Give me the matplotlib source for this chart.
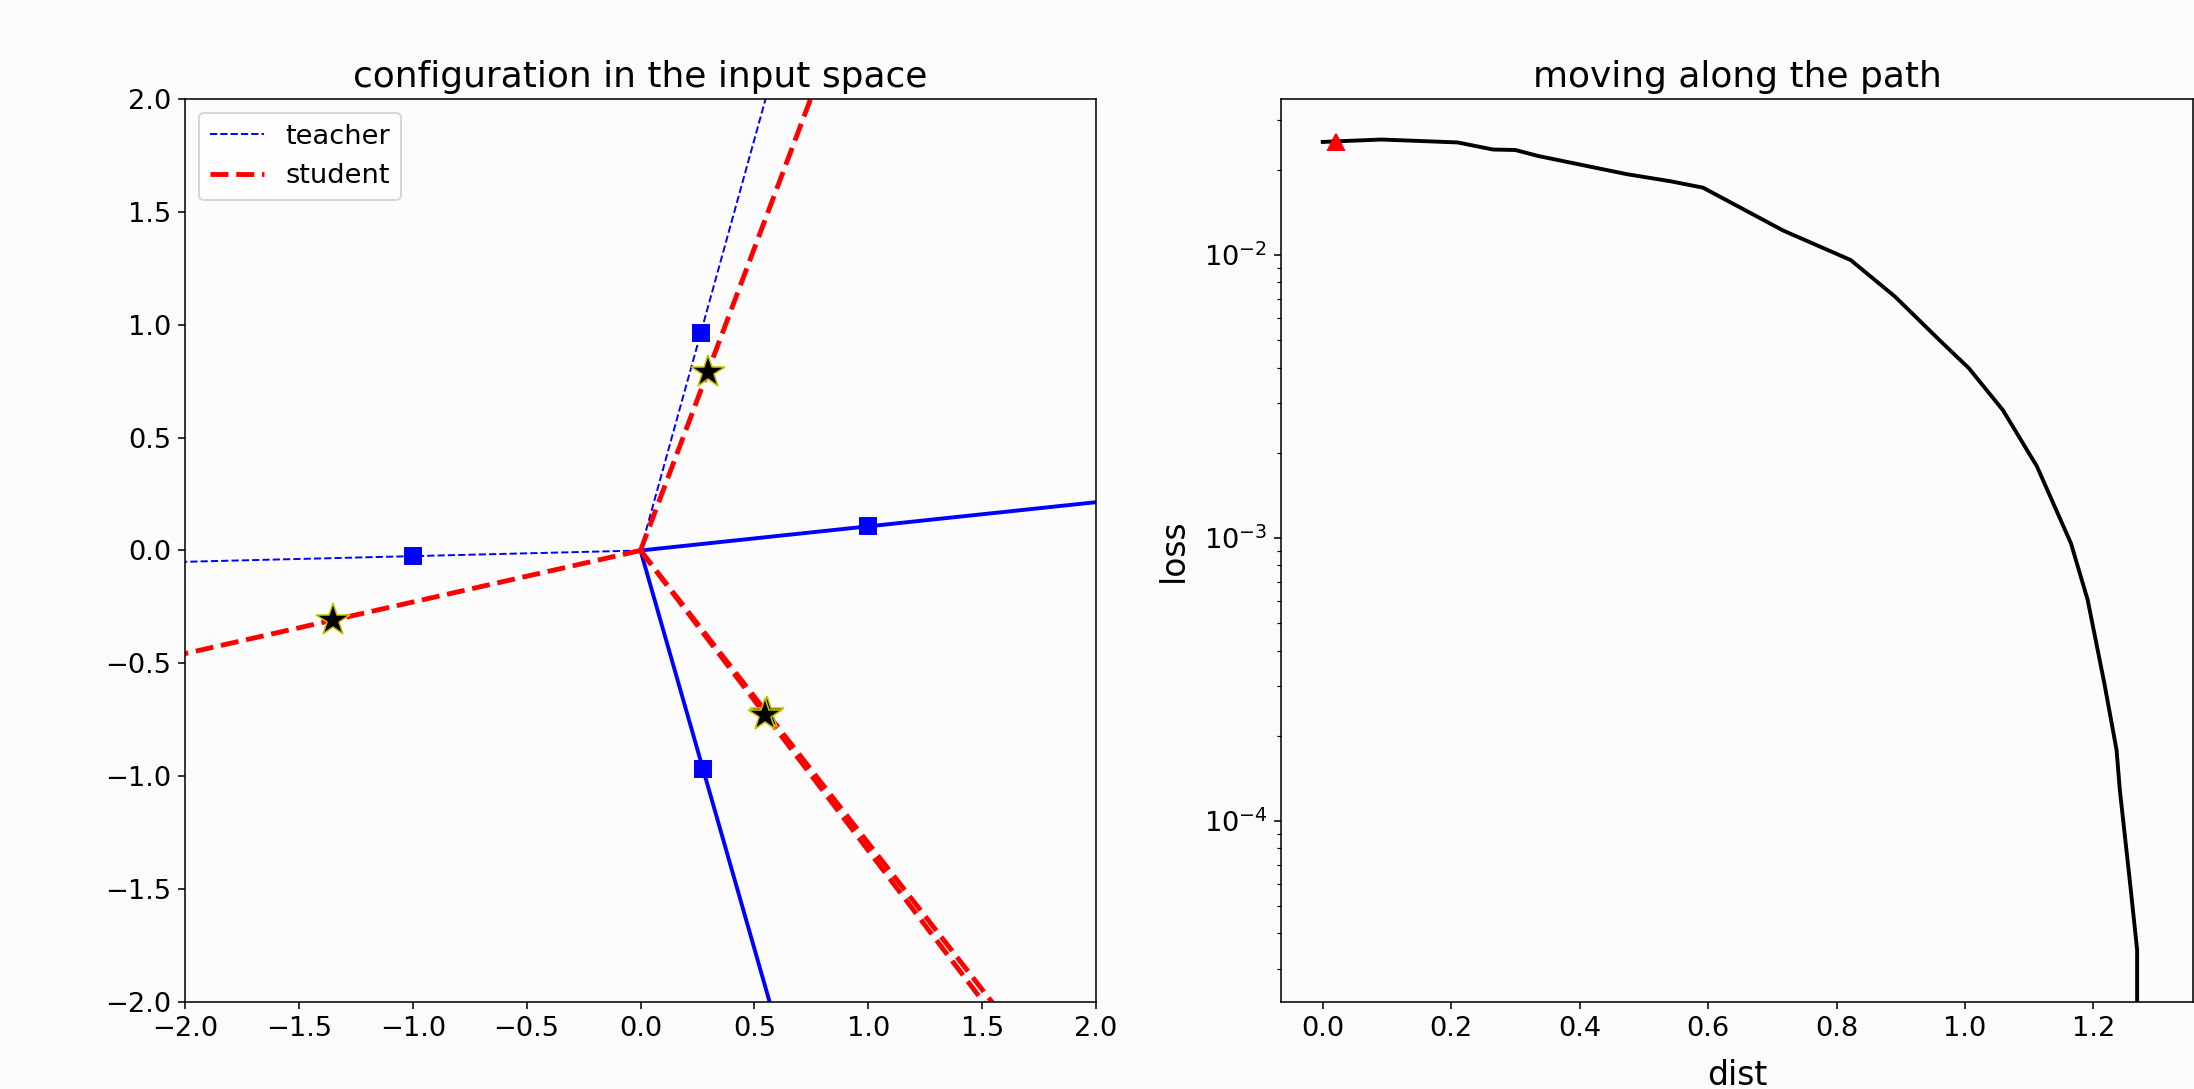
import numpy as np
import matplotlib
matplotlib.use("Agg")
import matplotlib.pyplot as plt

# teacher hidden units: input weights and the sign of their output weight
teacher_w = [(0.265, 0.965), (-1.0, -0.025), (1.0, 0.107), (0.275, -0.97)]
teacher_sign = [-1, -1, 1, 1]

# student hidden units (input weights)
student_w = [(0.295, 0.79), (-1.349, -0.308), (0.557, -0.722), (0.548, -0.728)]

# loss along the interpolation path
path_dist = [0.0, 0.091, 0.21, 0.265, 0.30, 0.335, 0.404, 0.474, 0.543, 0.592,
             0.648, 0.717, 0.787, 0.822, 0.891, 0.96, 1.006, 1.059, 1.112,
             1.165, 1.191, 1.217, 1.236, 1.241, 1.257, 1.268, 1.268]
path_loss = [0.0251, 0.0256, 0.0250, 0.0236, 0.0235, 0.0224, 0.0208, 0.0193,
             0.0182, 0.0173, 0.0148, 0.0122, 0.0104, 0.0096, 0.00713, 0.00501,
             0.00398, 0.00283, 0.00179, 0.000957, 0.000604, 0.000306,
             0.000178, 0.000129, 6.03e-5, 3.5e-5, 0.0]
current_dist = [0.02]
current_loss = [0.0250]

plt.rcParams.update({
    "font.size": 14,
    "axes.titlesize": 18.5,
    "axes.labelsize": 17,
    "xtick.labelsize": 14,
    "ytick.labelsize": 14,
    "legend.fontsize": 14,
})

DPI = 140
fig = plt.figure(figsize=(2194 / DPI, 1089 / DPI), dpi=DPI, facecolor="#fbfbfb")

ax1 = fig.add_axes([185 / 2194, 1 - 1002 / 1089, 911 / 2194, 903 / 1089])
ax2 = fig.add_axes([1281 / 2194, 1 - 1002 / 1089, 912 / 2194, 903 / 1089])
for ax in (ax1, ax2):
    ax.set_facecolor("#fcfcfc")

# left panel: directions of teacher and student units
ray = 10.0
first = True
for (wx, wy), s in zip(teacher_w, teacher_sign):
    if s < 0:
        ax1.plot([0, ray * wx], [0, ray * wy], "b--", lw=1.0,
                 label="teacher" if first else None)
        first = False
    else:
        ax1.plot([0, ray * wx], [0, ray * wy], "b-", lw=2.0)
    ax1.plot([wx], [wy], "bs", ms=8.5)

first = True
for wx, wy in student_w:
    ax1.plot([0, ray * wx], [0, ray * wy], "r--", lw=2.5,
             label="student" if first else None)
    first = False
for wx, wy in student_w:
    ax1.plot([wx], [wy], marker="*", color="k", ms=18, mec="#c8c000", mew=0.8,
             ls="none")

ax1.set_xlim(-2, 2)
ax1.set_ylim(-2, 2)
ax1.set_xticks(np.arange(-2, 2.01, 0.5))
ax1.set_yticks(np.arange(-2, 2.01, 0.5))
ax1.set_title("configuration in the input space")
ax1.legend(loc="upper left")

# right panel: loss along the path
ax2.plot(path_dist, path_loss, "k-", lw=2.0)
ax2.plot(current_dist, current_loss, "r^", ms=8.5)
ax2.set_yscale("log")
ax2.set_xlim(-0.065, 1.355)
ax2.set_ylim(2.29e-5, 0.0356)
ax2.set_xticks(np.arange(0, 1.21, 0.2))
ax2.set_xlabel("dist", labelpad=9)
ax2.set_ylabel("loss", labelpad=7)
ax2.set_title("moving along the path")

fig.savefig("out.png", dpi=DPI, facecolor=fig.get_facecolor())
